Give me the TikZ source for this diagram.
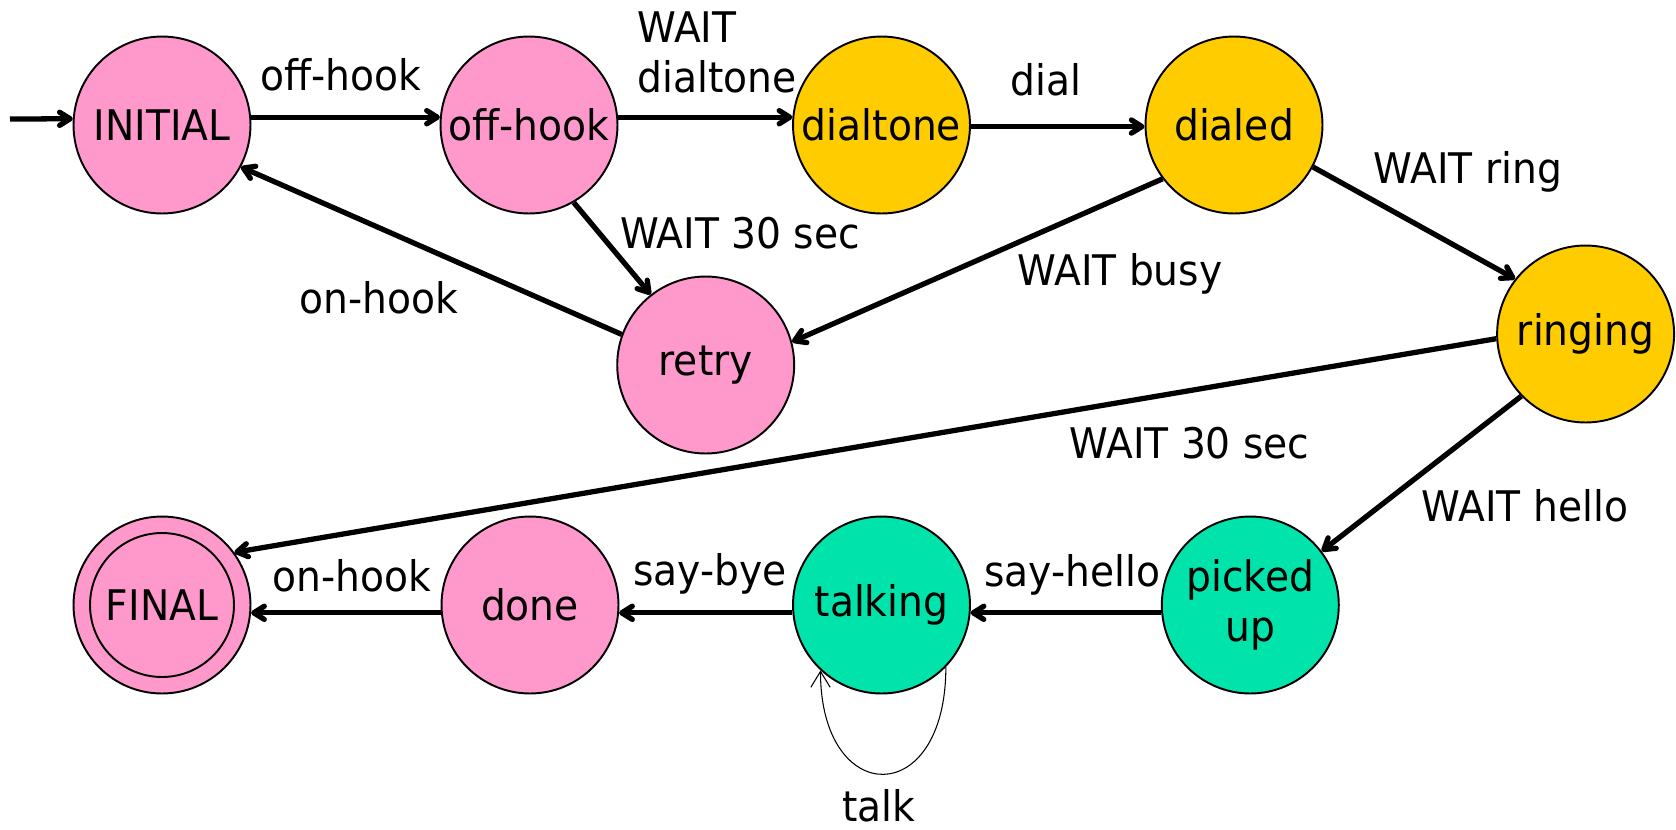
\documentclass[tikz,border=0pt]{standalone}
\usepackage{fontspec}
\setmainfont{DejaVu Sans}[FakeStretch=0.93]
\usetikzlibrary{arrows.meta}
\definecolor{statepink}{HTML}{FF99CC}
\definecolor{stateyellow}{HTML}{FFCC00}
\definecolor{stategreen}{HTML}{00E3AA}
\begin{document}
\begin{tikzpicture}[x=0.02cm, y=-0.02cm,
  txt/.style={font=\fontsize{24}{28.5}\selectfont},
  state/.style={txt, circle, draw, line width=1.1pt, minimum size=3.54cm,
    inner sep=0pt, align=center},
  pinkstate/.style={state, fill=statepink},
  yellowstate/.style={state, fill=stateyellow},
  greenstate/.style={state, fill=stategreen},
  edge/.style={line width=3pt, -{Straight Barb[round,length=6pt,width=7.5pt]}},
  loopedge/.style={line width=0.6pt, -{Straight Barb[length=9pt,width=11pt]}},
  lbl/.style={txt, anchor=base, inner sep=0pt}
]
\useasboundingbox (0,0) rectangle (1676,829);

% states
\node[pinkstate]   (initial)  at (162,125)    {INITIAL};
\node[pinkstate]   (offhook)  at (529,125)    {off-hook};
\node[yellowstate] (dialtone) at (881.5,125)  {dialtone};
\node[yellowstate] (dialed)   at (1234,125)   {dialed};
\node[pinkstate]   (retry)    at (705.7,365)  {retry};
\node[yellowstate] (ringing)  at (1585.6,334) {ringing};
\node[pinkstate]   (final)    at (162,605)    {};
\node[state, minimum size=2.88cm] (finalin) at (final) {FINAL};
\node[greenstate]  (picked)   at (1250.3,605) {picked\\up};
\node[greenstate]  (talking)  at (881.5,605)  {talking};
\node[pinkstate]   (done)     at (530,605)    {done};

% transitions
\coordinate (entry) at (10,119);
\draw[edge] (entry) -- (initial.176);
\draw[edge] (initial.5) -- (offhook.175);
\draw[edge] (offhook.5) -- (dialtone.175);
\draw[edge] (dialtone.-1) -- (dialed.181);
\draw[edge] (offhook.-60) -- (retry.128);
\draw[edge] (retry.160.5) -- (initial.-28.5);
\draw[edge] (dialed.217.8) -- (retry.15.6);
\draw[edge] (dialed.-28.6) -- (ringing.142);
\draw[edge] (ringing.183.8) -- (final.36.7);
\draw[edge] (ringing.224) -- (picked.37.8);
\draw[edge] (picked.185) -- (talking.-5);
\draw[edge] (talking.185) -- (done.-5);
\draw[edge] (done.185) -- (final.-5);
\draw[loopedge] (talking.-44.5) .. controls +(0,143) and +(0,138) .. (talking.227);

% transition labels
\node[lbl] (l1) at (341,90) {off-hook};
\node[txt, anchor=west, inner sep=0pt, align=left] (l2) at (637,52.5) {WAIT\\dialtone};
\node[lbl] (l3) at (1046,95) {dial};
\node[lbl] (l4) at (740,248) {WAIT 30 sec};
\node[lbl] (l5) at (379,313) {on-hook};
\node[lbl] (l6) at (1468,183) {WAIT ring};
\node[lbl] (l7) at (1120,285) {WAIT busy};
\node[lbl] (l8) at (1189.5,458) {WAIT 30 sec};
\node[lbl] (l9) at (1525,521) {WAIT hello};
\node[lbl] (l10) at (352,591) {on-hook};
\node[lbl] (l11) at (710,585) {say-bye};
\node[lbl] (l12) at (1072,586) {say-hello};
\node[lbl] (l13) at (879,821) {talk};
\end{tikzpicture}
\end{document}
